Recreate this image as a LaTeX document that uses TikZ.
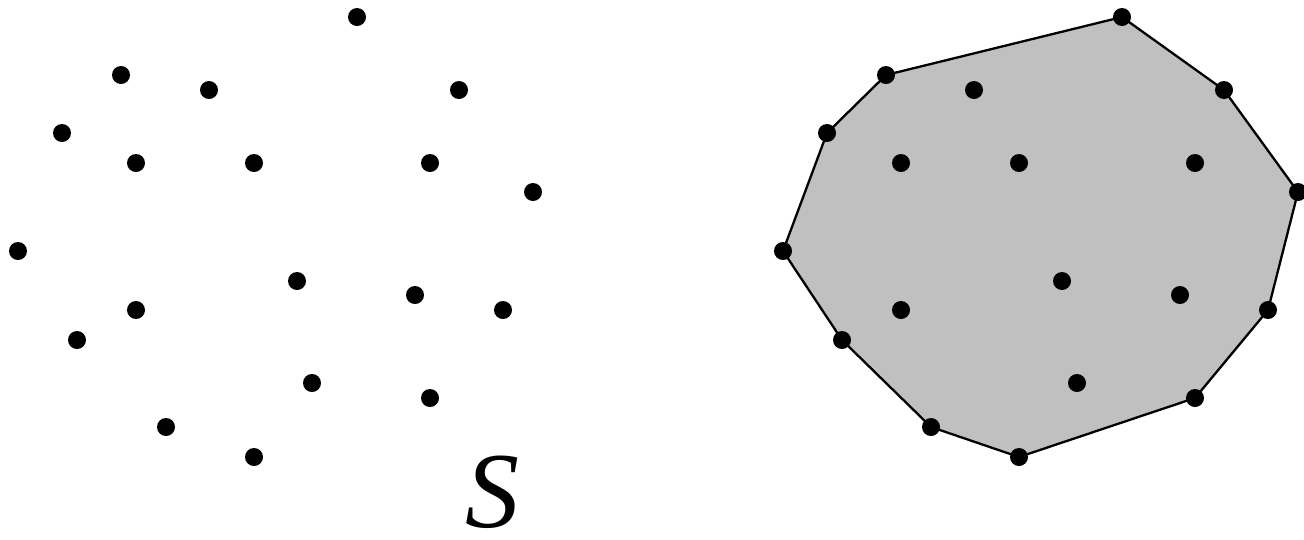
\documentclass[tikz,border=0pt]{standalone}
\usepackage{fontspec}
\setmainfont{Liberation Serif}
\tikzset{
  pt/.style={circle,fill=black,inner sep=0pt,minimum size=18pt},
  hull/.style={draw=black,line width=2.3pt,fill=hullgray,line join=round}
}
\definecolor{hullgray}{RGB}{192,192,192}
\begin{document}
\begin{tikzpicture}[x=1pt,y=-1pt]
\useasboundingbox (0,0) rectangle (1304,539);
% left point set
\foreach \i/\x/\y in {1/357/17,2/121/75,3/209/90,4/459/90,5/62/133,6/136/163,7/254/163,8/430/163,9/533/192,10/18/251,11/297/281,12/415/295,13/503/310,14/136/310,15/77/340,16/312/383,17/430/398,18/166/427,19/254/457}
  \node[pt] (L\i) at (\x,\y) {};
\node[inner sep=0pt,anchor=base] (S) at (492,527) {\fontsize{108}{108}\selectfont\itshape S};
% right: hull coordinates
\begin{scope}[xshift=765pt]
\foreach \i/\x/\y in {1/357/17,2/121/75,3/209/90,4/459/90,5/62/133,6/136/163,7/254/163,8/430/163,9/533/192,10/18/251,11/297/281,12/415/295,13/503/310,14/136/310,15/77/340,16/312/383,17/430/398,18/166/427,19/254/457}
  \coordinate (c\i) at (\x,\y);
\end{scope}
\draw[hull] (c1) -- (c2) -- (c5) -- (c10) -- (c15) -- (c18) -- (c19) -- (c17) -- (c13) -- (c9) -- (c4) -- cycle;
\foreach \i in {1,...,19}
  \node[pt] (R\i) at (c\i) {};
\end{tikzpicture}
\end{document}
